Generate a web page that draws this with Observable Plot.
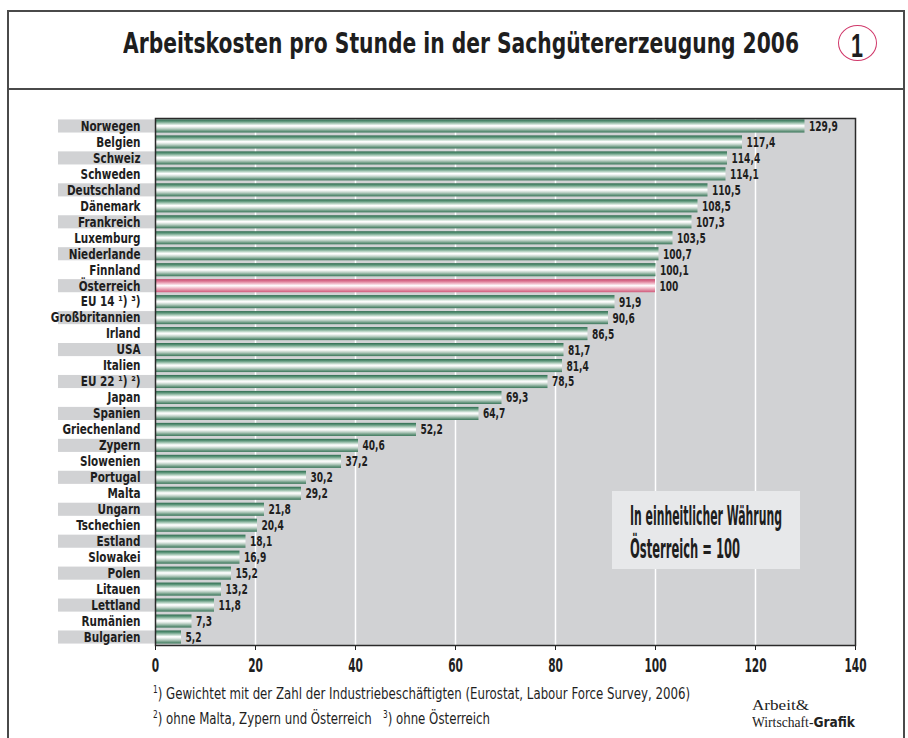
<!DOCTYPE html>
<html>
<head>
<meta charset="utf-8">
<script src="https://cdn.jsdelivr.net/npm/d3@7"></script>
<script src="https://cdn.jsdelivr.net/npm/@observablehq/plot@0.6"></script>
<style>
  body { margin: 0; background: #fff; }
  #wrap { position: relative; width: 908px; height: 738px; overflow: hidden;
    font-family: "DejaVu Sans Condensed", "Liberation Sans Narrow", sans-serif; color: #1e1e1e; }
  .box { position: absolute; border: 2px solid #4a4a4a; box-sizing: border-box; }
  .fit { position: absolute; white-space: nowrap; transform-origin: 0 0; line-height: 1; }
  #title { left: 123px; top: 30px; font-size: 28px; font-weight: bold; }
  #num { position: absolute; left: 838px; top: 25px; width: 39px; height: 36px; border: 1.5px solid #d0386a;
    border-radius: 50%; box-sizing: border-box; }
  #numtxt { left: 851px; top: 28px; font-size: 34px; font-family: "Liberation Sans", "DejaVu Sans", sans-serif; font-weight: bold; }
  #chart { position: absolute; left: 0; top: 100px; }
  #legend { position: absolute; left: 612px; top: 491px; width: 188px; height: 78px; background: #e7e8ea; }
  .leg { font-weight: bold; font-size: 26px; }
  .foot { font-size: 16px; }
  .foot sup { font-size: 10px; vertical-align: 6px; line-height: 0; }
  .brand { font-family: "Liberation Serif", "DejaVu Serif", serif; font-size: 14px; color: #222; }
  .brand b { font-family: "DejaVu Sans Condensed", sans-serif; font-size: 14px; }
</style>
</head>
<body>
<div id="wrap">
  <div class="box" style="left:7px;top:10px;width:898px;height:80px;"></div>
  <div class="box" style="left:7px;top:88px;width:898px;height:700px;"></div>
  <div id="title" class="fit" data-w="676">Arbeitskosten pro Stunde in der Sachgütererzeugung 2006</div>
  <div id="num"></div>
  <div id="numtxt" class="fit" data-w="12">1</div>
  <div id="chart"></div>
  <div id="legend"></div>
  <div class="fit leg" style="left:630px;top:503px" data-w="152">In einheitlicher Währung</div>
  <div class="fit leg" style="left:630px;top:536px" data-w="110">Österreich = 100</div>
  <div id="f1" class="fit foot" style="left:153px;top:686px" data-w="537"><sup>1</sup>) Gewichtet mit der Zahl der Industriebeschäftigten (Eurostat, Labour Force Survey, 2006)</div>
  <div id="f2" class="fit foot" style="left:153px;top:711px" data-w="337"><sup>2</sup>) ohne Malta, Zypern und Österreich &nbsp;&nbsp;<sup>3</sup>) ohne Österreich</div>
  <div class="fit brand" style="left:752px;top:699px" data-w="57">Arbeit&amp;</div>
  <div class="fit brand" style="left:752px;top:715px" data-w="103">Wirtschaft-<b>Grafik</b></div>
</div>
<script>
const countries = ["Norwegen","Belgien","Schweiz","Schweden","Deutschland","Dänemark","Frankreich","Luxemburg","Niederlande","Finnland","Österreich","EU 14 ¹) ³)","Großbritannien","Irland","USA","Italien","EU 22 ¹) ²)","Japan","Spanien","Griechenland","Zypern","Slowenien","Portugal","Malta","Ungarn","Tschechien","Estland","Slowakei","Polen","Litauen","Lettland","Rumänien","Bulgarien"];
const values = [129.9,117.4,114.4,114.1,110.5,108.5,107.3,103.5,100.7,100.1,100,91.9,90.6,86.5,81.7,81.4,78.5,69.3,64.7,52.2,40.6,37.2,30.2,29.2,21.8,20.4,18.1,16.9,15.2,13.2,11.8,7.3,5.2];
const highlight = "Österreich";
const xTicks = [0,20,40,60,80,100,120,140];
const gridValues = [20,40,60,80,100,120];
const labelBandStart = -19.4;

const data = countries.map((c, i) => ({country: c, value: values[i], i, fill: c === highlight ? "url(#gradPink)" : "url(#gradGreen)"}));
const bands = data.filter(d => d.i % 2 === 0);

const plot = Plot.plot({
  width: 908,
  height: 590,
  marginLeft: 155,
  marginRight: 53,
  marginTop: 18,
  marginBottom: 45,
  style: {fontFamily: '"DejaVu Sans Condensed", sans-serif', fontWeight: "bold", fontSize: "19px", color: "#1e1e1e", background: "transparent"},
  x: {domain: [0, 140], ticks: xTicks, tickSize: 5, tickPadding: 8, label: null, tickFormat: d => String(d)},
  y: {domain: countries, paddingInner: 0.18, paddingOuter: 0.09, axis: null},
  color: {type: "identity"},
  marks: [
    Plot.frame({fill: "#d1d2d4"}),
    Plot.barX(bands, {x1: labelBandStart, x2: 0, y: "country", fill: "#d1d2d4"}),
    Plot.ruleX(gridValues, {stroke: "#ffffff", strokeWidth: 1.5}),
    Plot.barX(data, {x: "value", y: "country", fill: "fill"}),
    Plot.text(data, {x: "value", y: "country", text: d => String(d.value).replace(".", ","), textAnchor: "start", dx: 4, fontSize: 14, fill: "#1e1e1e"}),
    Plot.text(data, {x: 0, y: "country", text: "country", textAnchor: "end", dx: -15, fontSize: 13.5, fill: "#1e1e1e"}),
    Plot.frame({stroke: "#2a2a2a", strokeWidth: 1.5})
  ]
});

const ns = "http://www.w3.org/2000/svg";
const defs = document.createElementNS(ns, "defs");
function grad(id, stops) {
  const g = document.createElementNS(ns, "linearGradient");
  g.setAttribute("id", id);
  g.setAttribute("x1", "0"); g.setAttribute("y1", "0"); g.setAttribute("x2", "0"); g.setAttribute("y2", "1");
  stops.forEach(([o, c]) => {
    const s = document.createElementNS(ns, "stop");
    s.setAttribute("offset", o); s.setAttribute("stop-color", c);
    g.appendChild(s);
  });
  defs.appendChild(g);
}
grad("gradGreen", [[0,"#2f6c50"],[0.15,"#5d967a"],[0.32,"#b3d0c0"],[0.47,"#ffffff"],[0.56,"#f1f4f2"],[0.72,"#b6ccc0"],[0.86,"#75a08a"],[1,"#3a765a"]]);
grad("gradPink", [[0,"#c8476c"],[0.18,"#dd7e98"],[0.34,"#f2bccb"],[0.5,"#ffffff"],[0.66,"#f4c6d2"],[0.84,"#e08ba2"],[1,"#cf5a7a"]]);
plot.insertBefore(defs, plot.firstChild);

document.getElementById("chart").appendChild(plot);

// condense SVG texts horizontally (reference uses a compressed typeface)
function squeeze(nodes, factor) {
  nodes.forEach(t => {
    const L = t.getComputedTextLength();
    if (L > 0) { t.setAttribute("textLength", (L * factor).toFixed(2)); t.setAttribute("lengthAdjust", "spacingAndGlyphs"); }
  });
}
const groups = plot.querySelectorAll('g[aria-label="text"]');
if (groups[0]) squeeze([...groups[0].querySelectorAll("text")], 0.72);
if (groups[1]) squeeze([...groups[1].querySelectorAll("text")], 0.86);
squeeze([...plot.querySelectorAll("text")].filter(t => !t.closest('g[aria-label="text"]')), 0.62);

// condense HTML texts to their reference widths
document.querySelectorAll(".fit").forEach(el => {
  const w = el.getBoundingClientRect().width;
  const target = +el.dataset.w;
  if (w > 0 && target) el.style.transform = `scaleX(${target / w})`;
});
</script>
</body>
</html>
